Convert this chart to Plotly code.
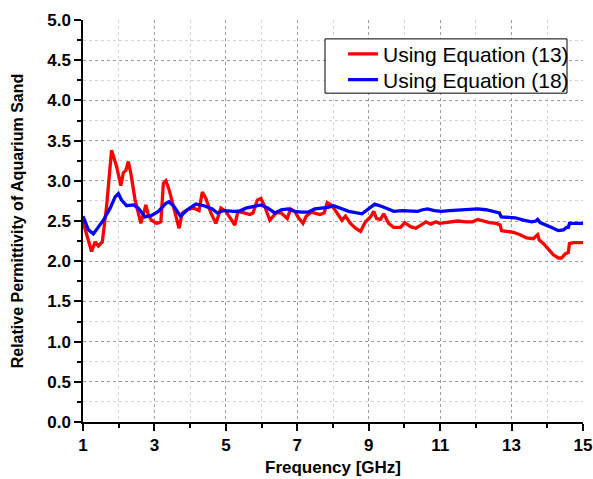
import plotly.graph_objects as go

# Using Equation (13)
freq_13 = [1.0, 1.24, 1.34, 1.43, 1.54, 1.66, 1.80, 1.94, 2.06, 2.13, 2.20, 2.27, 2.34, 2.46, 2.62,
           2.69, 2.76, 2.83, 2.92, 3.06, 3.18, 3.25, 3.32, 3.41, 3.55, 3.69, 3.78, 3.92, 4.11, 4.25,
           4.34, 4.44, 4.58, 4.72, 4.86, 5.0, 5.25, 5.34, 5.51, 5.67, 5.76, 5.88, 5.98, 6.09, 6.23,
           6.32, 6.41, 6.55, 6.72, 6.81, 6.93, 7.02, 7.16, 7.25, 7.39, 7.63, 7.75, 7.84, 7.95, 8.02,
           8.11, 8.25, 8.35, 8.49, 8.63, 8.77, 8.91, 9.05, 9.14, 9.22, 9.33, 9.42, 9.56, 9.70, 9.89,
           10.01, 10.17, 10.32, 10.46, 10.60, 10.74, 10.88, 10.98, 11.12, 11.31, 11.49, 11.73, 11.91,
           12.05, 12.19, 12.38, 12.57, 12.68, 12.72, 12.86, 13.05, 13.24, 13.42, 13.61, 13.73, 13.78,
           13.89, 14.03, 14.17, 14.31, 14.40, 14.50, 14.59, 14.62, 14.73, 15.0]
eps_13 = [2.49, 2.12, 2.24, 2.19, 2.24, 2.68, 3.38, 3.18, 2.94, 3.10, 3.13, 3.24, 3.09, 2.76, 2.47,
          2.60, 2.70, 2.57, 2.51, 2.47, 2.49, 2.97, 3.00, 2.89, 2.64, 2.41, 2.60, 2.64, 2.66, 2.63,
          2.86, 2.78, 2.60, 2.47, 2.66, 2.62, 2.45, 2.62, 2.60, 2.58, 2.60, 2.76, 2.78, 2.68, 2.51,
          2.55, 2.60, 2.60, 2.53, 2.65, 2.62, 2.55, 2.47, 2.56, 2.61, 2.58, 2.60, 2.73, 2.70, 2.66,
          2.60, 2.51, 2.56, 2.47, 2.41, 2.37, 2.49, 2.55, 2.62, 2.53, 2.52, 2.59, 2.47, 2.42, 2.42,
          2.48, 2.43, 2.41, 2.45, 2.49, 2.46, 2.49, 2.47, 2.48, 2.49, 2.50, 2.49, 2.49,
          2.52, 2.50, 2.48, 2.47, 2.45, 2.38, 2.37, 2.36, 2.33, 2.29, 2.28, 2.33, 2.26,
          2.22, 2.15, 2.08, 2.04, 2.04, 2.09, 2.11, 2.22, 2.23, 2.23]

# Using Equation (18)
freq_18 = [1.0, 1.15, 1.29, 1.43, 1.57, 1.76, 1.90, 1.99, 2.08, 2.22, 2.41, 2.55, 2.74, 2.92, 3.11,
           3.32, 3.41, 3.55, 3.73, 3.92, 4.16, 4.39, 4.62, 4.76, 4.95, 5.23, 5.37, 5.56, 5.81, 5.99,
           6.18, 6.37, 6.55, 6.74, 6.93, 7.11, 7.30, 7.49, 7.67, 7.86, 8.02, 8.16, 8.44, 8.81, 9.00,
           9.17, 9.37, 9.56, 9.70, 9.93, 10.17, 10.37, 10.51, 10.65, 10.84, 11.03, 11.26, 11.54,
           11.82, 12.05, 12.28, 12.52, 12.66, 12.71, 12.86, 13.10, 13.33, 13.56, 13.68, 13.73, 13.80,
           13.98, 14.17, 14.31, 14.45, 14.54, 14.59, 14.62, 14.78, 15.0]
eps_18 = [2.56, 2.39, 2.34, 2.42, 2.51, 2.66, 2.80, 2.84, 2.76, 2.69, 2.70, 2.66, 2.55, 2.57, 2.62,
          2.72, 2.74, 2.68, 2.56, 2.64, 2.71, 2.69, 2.65, 2.60, 2.63, 2.62, 2.62, 2.66, 2.68, 2.70,
          2.66, 2.60, 2.64, 2.65, 2.62, 2.61, 2.61, 2.65, 2.66, 2.67, 2.69, 2.67, 2.62, 2.59, 2.66,
          2.71, 2.68, 2.65, 2.62, 2.63, 2.62, 2.62, 2.64, 2.65, 2.63, 2.62, 2.63, 2.64,
          2.64, 2.65, 2.64, 2.62, 2.60, 2.55, 2.55, 2.54, 2.51, 2.49, 2.50, 2.52, 2.48,
          2.45, 2.41, 2.38, 2.39, 2.42, 2.42, 2.47, 2.47, 2.47]

x_ticks = [1, 3, 5, 7, 9, 11, 13, 15]
y_ticks = [0.0, 0.5, 1.0, 1.5, 2.0, 2.5, 3.0, 3.5, 4.0, 4.5, 5.0]
x_range = [1, 15]
y_range = [0, 5]
x_title = "Frequency [GHz]"
y_title = "Relative Permittivity of Aquarium Sand"

FONT = "Arial, Liberation Sans, sans-serif"

fig = go.Figure()
fig.add_trace(go.Scatter(x=freq_13, y=eps_13, mode="lines", name="Using Equation (13)",
                         line=dict(color="#FF0000", width=3.3), legend="legend"))
fig.add_trace(go.Scatter(x=freq_18, y=eps_18, mode="lines", name="Using Equation (18)",
                         line=dict(color="#0000FF", width=3.3), legend="legend2"))

axis_common = dict(showline=True, linecolor="black", linewidth=1.5, zeroline=False,
                   automargin=False)

legend_common = dict(xanchor="left", yanchor="middle", borderwidth=0,
                     bgcolor="rgba(0,0,0,0)",
                     font=dict(family=FONT, size=21, color="black"))

fig.update_layout(
    width=593, height=479,
    margin=dict(l=83, r=10, t=20, b=57),
    paper_bgcolor="white", plot_bgcolor="white",
    font=dict(family=FONT, color="black"),
    showlegend=True,
    legend=dict(x=0.52, y=0.915, **legend_common),
    legend2=dict(x=0.52, y=0.851, **legend_common),
    shapes=[dict(type="rect", xref="paper", yref="paper",
                 x0=0.484, x1=0.968, y0=0.818, y1=0.953,
                 line=dict(color="black", width=1), fillcolor="white", layer="above")],
    annotations=[dict(text=f"<b>{x_title}</b>", xref="paper", yref="paper",
                      x=0.5, y=-0.113, xanchor="center", yanchor="middle",
                      showarrow=False, font=dict(family=FONT, size=17, color="black"))],
    xaxis=dict(range=x_range, tickmode="array", tickvals=x_ticks,
               ticktext=[str(v) for v in x_ticks],
               ticks="outside", ticklen=7, tickwidth=1.5, tickcolor="black",
               tickfont=dict(family=FONT, size=17, color="black", weight="bold"),
               showgrid=True, gridcolor="#9a9a9a", griddash="dot", gridwidth=1,
               minor=dict(dtick=1, tick0=0, ticks="outside", ticklen=4, tickwidth=1.5,
                          tickcolor="black", showgrid=True, gridcolor="#d4d4d4",
                          griddash="dot", gridwidth=1),
               **axis_common),
    yaxis=dict(range=y_range, tickmode="array", tickvals=y_ticks,
               ticktext=[f"{v:.1f}" for v in y_ticks],
               ticks="outside", ticklen=7, tickwidth=1.5, tickcolor="black",
               tickfont=dict(family=FONT, size=17, color="black", weight="bold"),
               showgrid=True, gridcolor="#9a9a9a", griddash="dot", gridwidth=1,
               minor=dict(dtick=0.25, tick0=0, ticks="outside", ticklen=4, tickwidth=1.5,
                          tickcolor="black", showgrid=True, gridcolor="#d4d4d4",
                          griddash="dot", gridwidth=1),
               title=dict(text=f"<b>{y_title}</b>",
                          font=dict(family=FONT, size=16), standoff=20),
               **axis_common),
    xaxis2=dict(range=x_range, overlaying="x", side="top", anchor="y",
                tickmode="array", tickvals=x_ticks, showticklabels=False,
                ticks="inside", ticklen=7, tickwidth=1.5, tickcolor="black",
                showgrid=False,
                minor=dict(dtick=1, tick0=0, ticks="inside", ticklen=4, tickwidth=1.5,
                           tickcolor="black", showgrid=False),
                **axis_common),
    yaxis2=dict(range=y_range, overlaying="y", side="right", anchor="x",
                tickmode="array", tickvals=y_ticks, showticklabels=False,
                ticks="inside", ticklen=7, tickwidth=1.5, tickcolor="black",
                showgrid=False,
                minor=dict(dtick=0.25, tick0=0, ticks="inside", ticklen=4, tickwidth=1.5,
                           tickcolor="black", showgrid=False),
                **axis_common),
)

fig.write_html("out.html")
